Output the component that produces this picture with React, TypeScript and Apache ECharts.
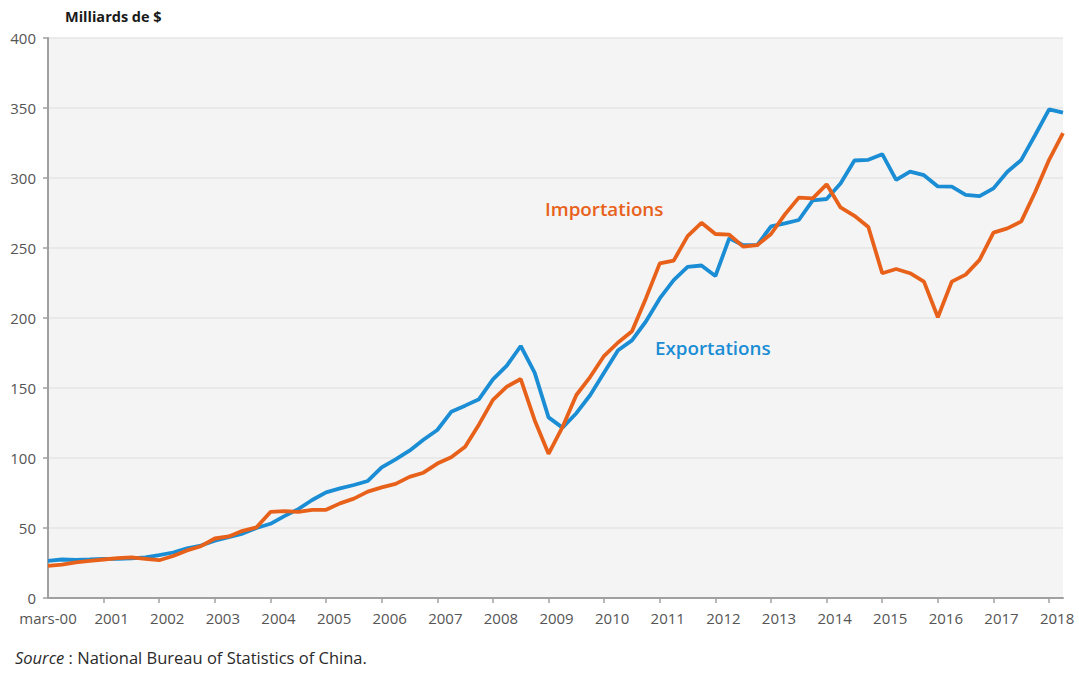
import React, { useEffect, useRef } from "react";
import * as echarts from "echarts";

// Quarterly points, March 2000 to June 2018
const quarterNames = ["mars", "juin", "sept", "déc"];
const years = [
  "00", "01", "02", "03", "04", "05", "06", "07", "08", "09",
  "10", "11", "12", "13", "14", "15", "16", "17", "18",
];
const categories: string[] = [];
years.forEach((y) => quarterNames.forEach((q) => categories.push(`${q}-${y}`)));
categories.splice(74);

// Labels shown at the first quarter of each year
const tickLabels = [
  "mars-00", "2001", "2002", "2003", "2004", "2005", "2006", "2007", "2008",
  "2009", "2010", "2011", "2012", "2013", "2014", "2015", "2016", "2017", "2018",
];

const exportations = [
  26.5, 27.5, 27.3, 27.6, 28, 28, 28.3, 29, 30.7, 32.5,
  35.5, 37.5, 41, 43.5, 46, 50, 53, 58.5, 63.5, 70,
  75.5, 78.3, 80.7, 83.6, 93.3, 99, 105.2, 113, 120, 133,
  137.4, 142, 156.2, 166, 180, 161, 129, 121.7, 132, 145,
  161, 177, 184, 197.5, 214, 227, 236.5, 237.5, 230, 257,
  252, 252, 265.5, 267.6, 270, 284, 285, 296, 312.5, 313,
  317, 298.6, 304.5, 302, 294, 293.8, 288, 287, 292.6, 304.5,
  312.9, 330.7, 349, 346.7,
];

const importations = [
  23, 23.8, 25.5, 26.5, 27.5, 28.5, 29, 28, 27, 30,
  34, 37, 42.5, 44, 48, 50.5, 61.5, 62, 61.5, 63,
  63, 67.6, 71, 76, 79, 81.5, 86.5, 89.5, 96, 100.5,
  108, 124, 141.5, 151, 156.4, 127, 103, 122, 145, 158,
  173, 182.5, 190.5, 214, 239, 241, 258.5, 268, 260, 259.5,
  251, 252, 260, 274, 286, 285.5, 295.5, 279, 273, 265,
  232, 235, 232, 226, 200.5, 226, 231, 241.5, 261, 264,
  269, 290, 313, 332,
];

const BLUE = "#1a8dd4";
const ORANGE = "#e8611a";
const FONT = "'Open Sans', 'Noto Sans', sans-serif";

export default function App() {
  const ref = useRef<HTMLDivElement>(null);

  useEffect(() => {
    if (!ref.current) return;
    const chart = echarts.init(ref.current, undefined, { renderer: "svg" });
    chart.setOption({
      animation: false,
      backgroundColor: "#ffffff",
      textStyle: { fontFamily: FONT },
      grid: {
        left: 48,
        right: 16,
        top: 38,
        bottom: 75,
        show: true,
        backgroundColor: "#f4f4f4",
        borderWidth: 0,
      },
      xAxis: {
        type: "category",
        data: categories,
        boundaryGap: false,
        axisLine: { show: true, lineStyle: { color: "#a0a0a0", width: 2 } },
        axisTick: {
          show: true,
          interval: (i: number) => i % 4 === 0 && i > 0,
          length: 5,
          lineStyle: { color: "#a0a0a0", width: 1.5 },
        },
        axisLabel: {
          interval: (i: number) => i % 4 === 0,
          showMinLabel: true,
          showMaxLabel: true,
          margin: 12,
          color: "#555555",
          fontSize: 15,
          fontFamily: FONT,
          formatter: (_v: string, i: number) => {
            const lab = tickLabels[Math.floor(i / 4)];
            return i === 0 ? `{f|${lab}}` : `{s|${lab}}`;
          },
          rich: {
            f: { fontSize: 15, color: "#555555", fontFamily: FONT },
            s: { fontSize: 15, color: "#555555", fontFamily: FONT, padding: [0, 0, 0, 16] },
          },
        },
        splitLine: { show: false },
      },
      yAxis: {
        type: "value",
        min: 0,
        max: 400,
        interval: 50,
        axisLine: { show: true, lineStyle: { color: "#a0a0a0", width: 2 } },
        axisTick: { show: true, length: 5, lineStyle: { color: "#a0a0a0", width: 1.5 } },
        axisLabel: {
          color: "#555555",
          fontSize: 15,
          lineHeight: 12,
          margin: 12,
          fontFamily: FONT,
          padding: [0, 0, 3, 0],
        },
        splitLine: { show: true, lineStyle: { color: "#e6e6e6", width: 1.5 } },
      },
      series: [
        {
          name: "Exportations",
          type: "line",
          data: exportations,
          showSymbol: false,
          lineStyle: { color: BLUE, width: 3.8 },
          itemStyle: { color: BLUE },
          z: 2,
        },
        {
          name: "Importations",
          type: "line",
          data: importations,
          showSymbol: false,
          lineStyle: { color: ORANGE, width: 3.8 },
          itemStyle: { color: ORANGE },
          z: 3,
        },
      ],
      graphic: [
        {
          type: "text",
          left: 65,
          top: 9,
          style: {
            text: "Milliards de $",
            font: `bold 14.5px ${FONT}`,
            fill: "#1a1a1a",
          },
        },
        {
          type: "text",
          left: 545,
          top: 199,
          style: {
            text: "Importations",
            font: `600 18.8px ${FONT}`,
            fill: ORANGE,
          },
        },
        {
          type: "text",
          left: 655,
          top: 338,
          style: {
            text: "Exportations",
            font: `600 18.8px ${FONT}`,
            fill: BLUE,
          },
        },
        {
          type: "text",
          left: 15,
          top: 649,
          style: {
            text: "{i|Source} : National Bureau of Statistics of China.",
            font: `16.5px ${FONT}`,
            fill: "#2a2a2a",
            rich: {
              i: { fontStyle: "italic", fontSize: 16.5, fontFamily: FONT, fill: "#2a2a2a" },
            },
          },
        },
      ],
    });
    return () => chart.dispose();
  }, []);

  return (
    <div
      ref={ref}
      style={{ position: "fixed", left: 0, top: 0, width: 1079, height: 673 }}
    />
  );
}
